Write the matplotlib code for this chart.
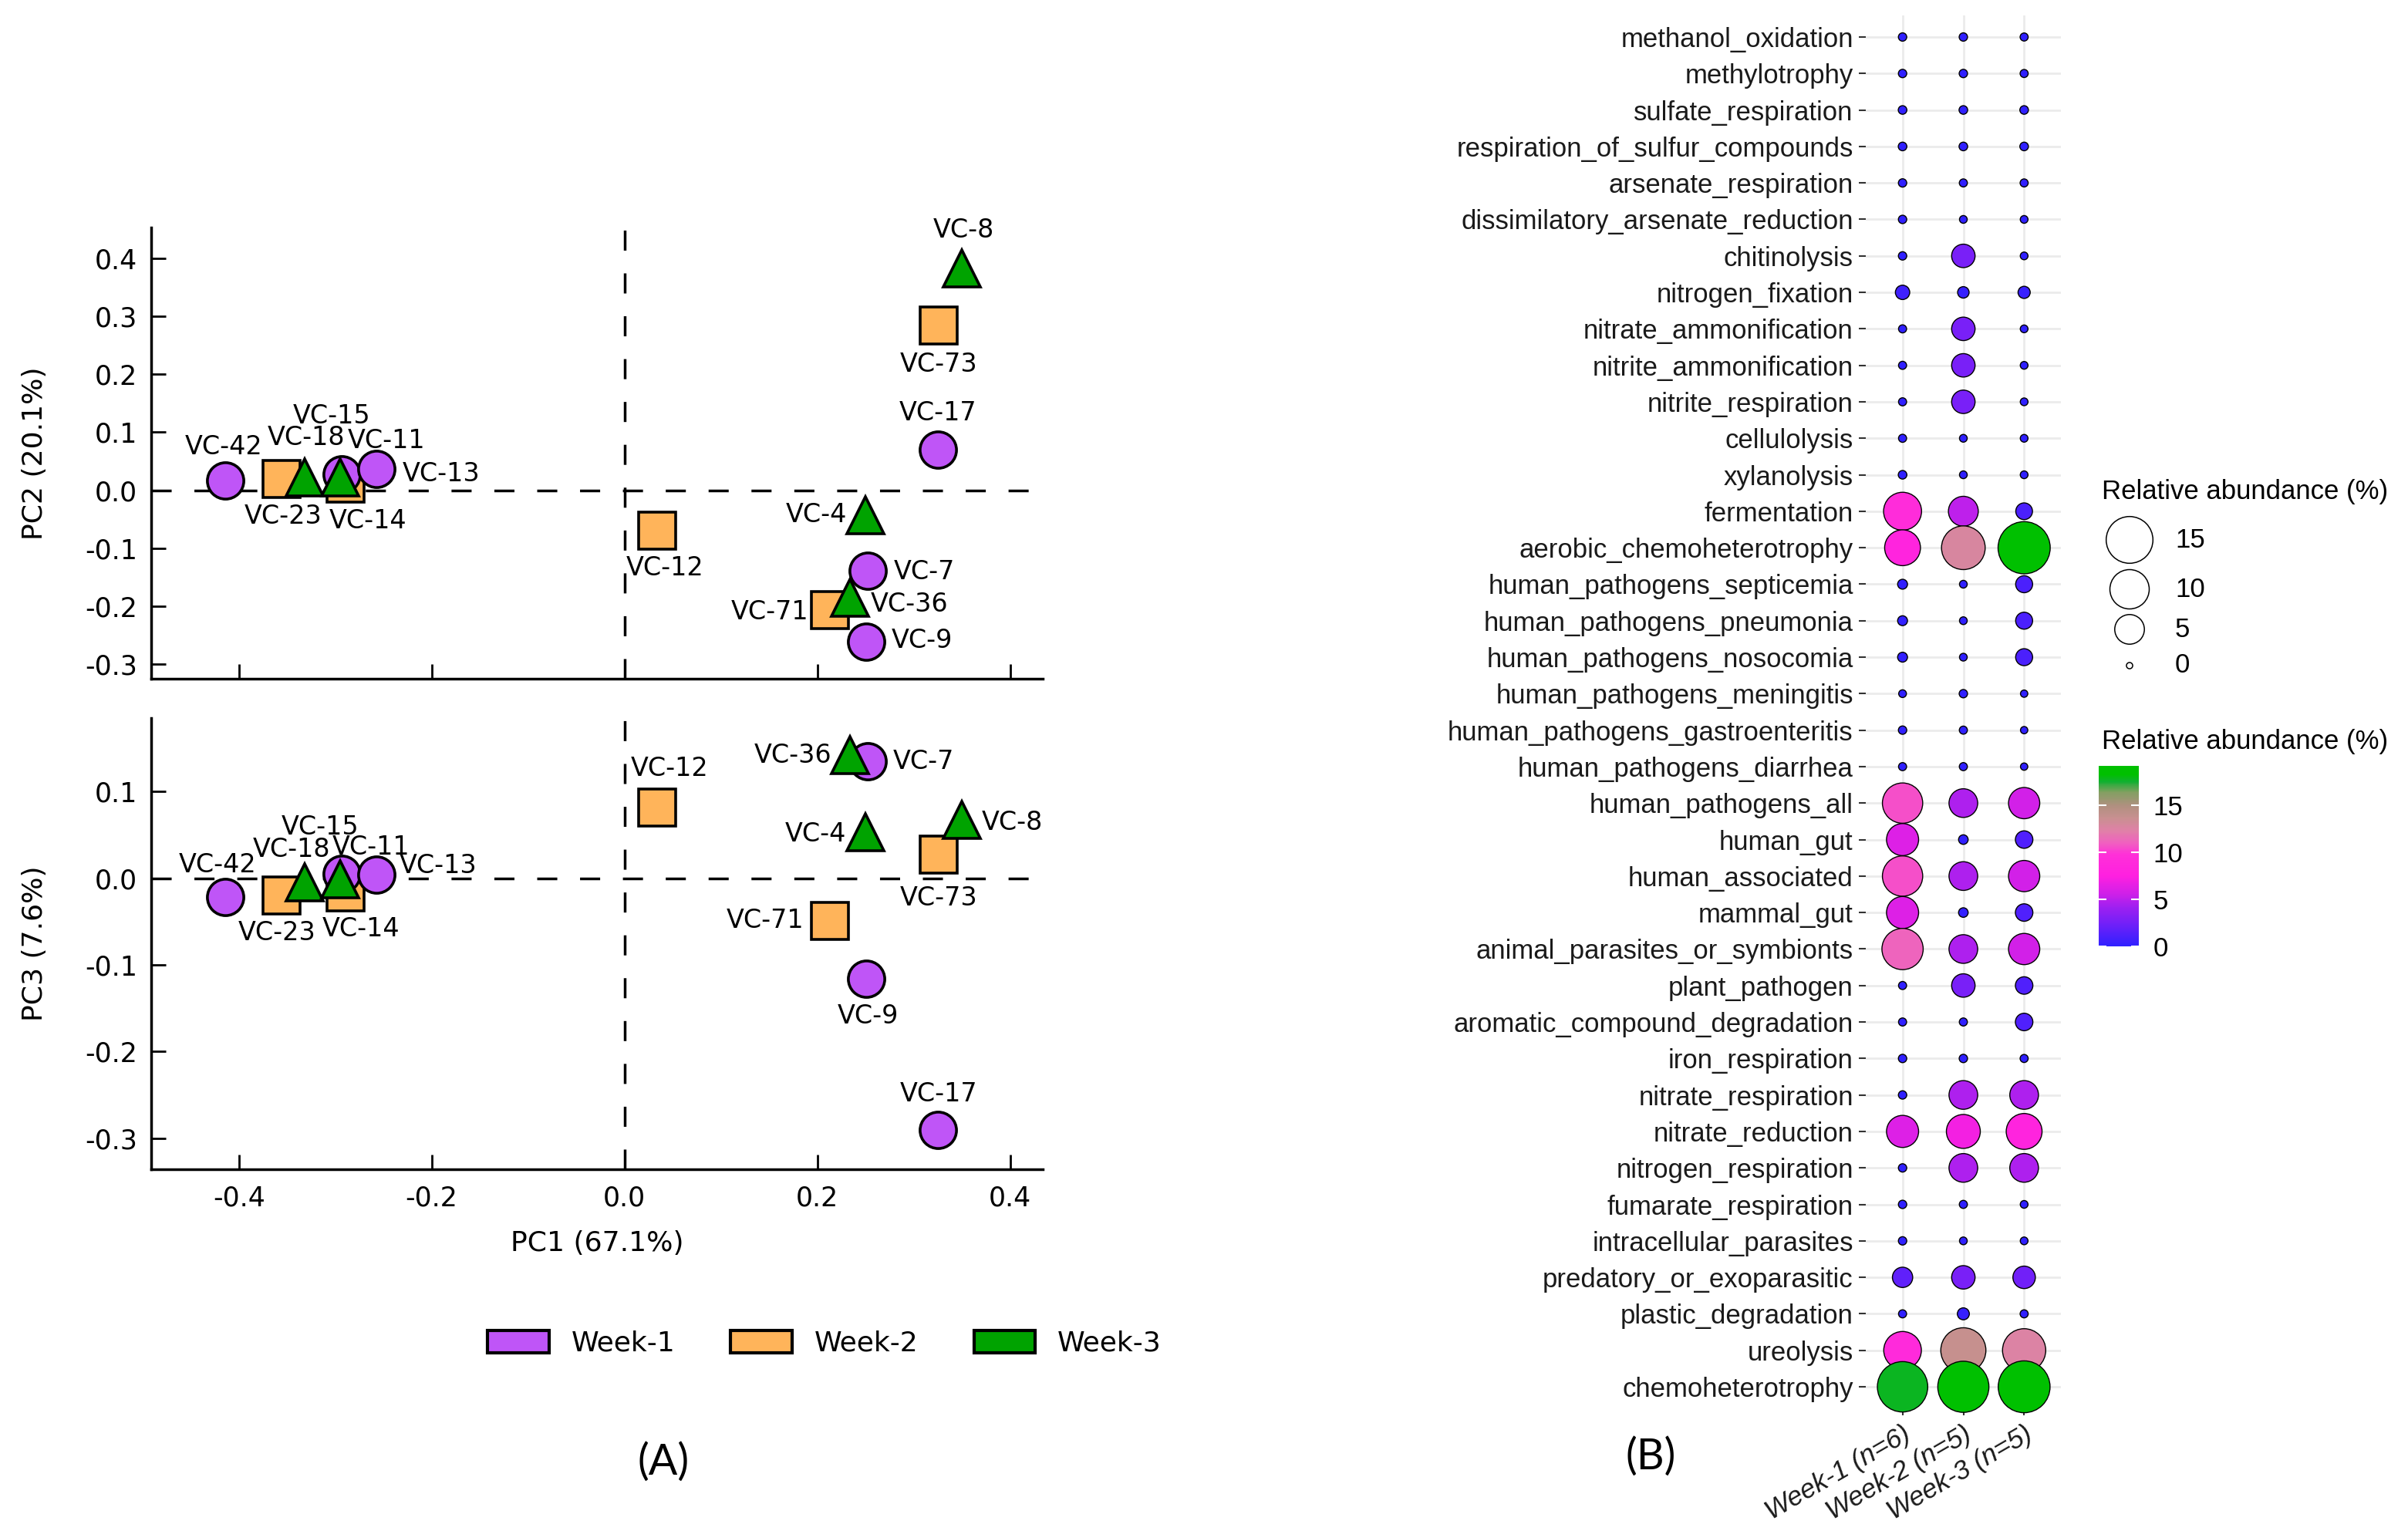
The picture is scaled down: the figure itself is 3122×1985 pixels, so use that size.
import numpy as np
import matplotlib
matplotlib.use("Agg")
import matplotlib.pyplot as plt
from matplotlib.colors import LinearSegmentedColormap, Normalize
from matplotlib.patches import Patch
from matplotlib.colorbar import ColorbarBase

W, H, DPI = 3122, 1985, 100

# ---------------- (A) PCA scores ----------------
samples = ['VC-42', 'VC-15', 'VC-13', 'VC-17', 'VC-7', 'VC-9',
           'VC-23', 'VC-14', 'VC-12', 'VC-71', 'VC-73',
           'VC-18', 'VC-11', 'VC-8', 'VC-4', 'VC-36']
weeks = ['Week-1'] * 6 + ['Week-2'] * 5 + ['Week-3'] * 5
pc1 = [-0.414, -0.293, -0.257, 0.325, 0.252, 0.251,
       -0.356, -0.289, 0.034, 0.213, 0.326,
       -0.332, -0.295, 0.350, 0.250, 0.234]
pc2 = [0.017, 0.028, 0.037, 0.070, -0.139, -0.261,
       0.019, 0.011, -0.070, -0.207, 0.284,
       0.022, 0.022, 0.383, -0.043, -0.185]
pc3 = [-0.022, 0.0055, 0.004, -0.291, 0.135, -0.116,
       -0.020, -0.016, 0.082, -0.049, 0.027,
       -0.005, -0.001, 0.067, 0.053, 0.142]

week_names = ['Week-1', 'Week-2', 'Week-3']
week_colors = {'Week-1': '#bf55f7', 'Week-2': '#ffb45a', 'Week-3': '#00a300'}
week_markers = {'Week-1': 'o', 'Week-2': 's', 'Week-3': '^'}

# label offsets in pixels (dx, dy) from the point
top_off = {'VC-8': (2, 49), 'VC-73': (0, -50), 'VC-17': (0, 47), 'VC-42': (-2, 43),
           'VC-15': (-13, 75), 'VC-18': (2, 52), 'VC-11': (60, 48), 'VC-13': (84, -7),
           'VC-23': (2, -48), 'VC-14': (29, -48), 'VC-4': (-64, 0), 'VC-12': (10, -48),
           'VC-7': (74, -1), 'VC-36': (77, -9), 'VC-71': (-78, -2), 'VC-9': (72, 1)}
bot_off = {'VC-42': (-10, 42), 'VC-23': (-6, -48), 'VC-18': (-17, 43), 'VC-15': (-28, 60),
           'VC-11': (40, 41), 'VC-14': (20, -48), 'VC-13': (80, 12), 'VC-12': (16, 50),
           'VC-36': (-74, 0), 'VC-7': (73, 0), 'VC-4': (-65, -2), 'VC-8': (65, -3),
           'VC-73': (0, -56), 'VC-71': (-84, 0), 'VC-9': (2, -49), 'VC-17': (1, 47)}

# ---------------- (B) functional profiles ----------------
functions = ['methanol_oxidation', 'methylotrophy', 'sulfate_respiration',
             'respiration_of_sulfur_compounds', 'arsenate_respiration',
             'dissimilatory_arsenate_reduction', 'chitinolysis', 'nitrogen_fixation',
             'nitrate_ammonification', 'nitrite_ammonification', 'nitrite_respiration',
             'cellulolysis', 'xylanolysis', 'fermentation', 'aerobic_chemoheterotrophy',
             'human_pathogens_septicemia', 'human_pathogens_pneumonia',
             'human_pathogens_nosocomia', 'human_pathogens_meningitis',
             'human_pathogens_gastroenteritis', 'human_pathogens_diarrhea',
             'human_pathogens_all', 'human_gut', 'human_associated', 'mammal_gut',
             'animal_parasites_or_symbionts', 'plant_pathogen',
             'aromatic_compound_degradation', 'iron_respiration', 'nitrate_respiration',
             'nitrate_reduction', 'nitrogen_respiration', 'fumarate_respiration',
             'intracellular_parasites', 'predatory_or_exoparasitic',
             'plastic_degradation', 'ureolysis', 'chemoheterotrophy']
groups = ['Week-1 (n=6)', 'Week-2 (n=5)', 'Week-3 (n=5)']
week1_ab = [0.04, 0.04, 0.05, 0.05, 0.04, 0.04, 0.04, 0.6, 0.03, 0.03, 0.03, 0.03, 0.05,
            9.2, 8.0, 0.12, 0.12, 0.12, 0.02, 0.04, 0.03, 10.6, 6.1, 10.6, 6.1, 11.2,
            0.03, 0.03, 0.04, 0.04, 6.1, 0.04, 0.04, 0.04, 1.8, 0.03, 9.0, 17.8]
week2_ab = [0.04, 0.04, 0.05, 0.05, 0.03, 0.02, 2.7, 0.25, 2.7, 2.7, 2.7, 0.02, 0.02,
            5.1, 12.8, 0.02, 0.02, 0.02, 0.04, 0.03, 0.03, 4.6, 0.1, 4.6, 0.1, 4.6,
            2.7, 0.03, 0.04, 4.6, 7.0, 4.6, 0.03, 0.02, 2.7, 0.3, 13.8, 18.4]
week3_ab = [0.03, 0.03, 0.05, 0.05, 0.03, 0.02, 0.02, 0.32, 0.02, 0.02, 0.02, 0.02, 0.02,
            1.0, 19.26, 1.05, 1.05, 1.05, 0.01, 0.01, 0.01, 5.7, 1.15, 5.7, 1.15, 5.7,
            1.15, 1.15, 0.03, 4.6, 8.0, 4.6, 0.02, 0.02, 2.4, 0.03, 12.5, 19.0]

size_breaks = [15, 10, 5, 0]
color_ticks = [0, 5, 10, 15]

# colour gradient of the abundance scale (value, colour)
grad_nodes = [(0, '#3020ff'), (2.3, '#7020f8'), (4.2, '#a020f0'), (5.6, '#d020e8'),
              (7.5, '#ff20e0'), (9.8, '#ff30d8'), (11.0, '#f060c0'), (12.3, '#e080a8'),
              (13.7, '#c89090'), (15.0, '#b09080'), (16.5, '#80a060'), (17.6, '#10b030'),
              (18.3, '#00c000'), (19.26, '#00c000')]

vmax = max(max(week1_ab), max(week2_ab), max(week3_ab))
cmap = LinearSegmentedColormap.from_list('abund', [(v / vmax, c) for v, c in grad_nodes])
norm = Normalize(0, vmax)


def bubble_area(v):
    d_px = 9.5 + 13.56 * np.sqrt(np.asarray(v, dtype=float)) - 1.4
    return (d_px * 72 / DPI) ** 2


def fig_rect(left, top, right, bottom):
    return [left / W, 1 - bottom / H, (right - left) / W, (bottom - top) / H]


plt.rcParams['font.family'] = 'DejaVu Sans'
fig = plt.figure(figsize=(W / DPI, H / DPI), dpi=DPI)

ax_top = fig.add_axes(fig_rect(196, 295, 1352, 880))
ax_bot = fig.add_axes(fig_rect(196, 931, 1352, 1516))


def pca_panel(ax, yvals, offsets, ylim, yticks, ylabel, show_xlabels):
    dash = (0, (7.5, 8.5))
    ax.axhline(0, color='black', lw=2.5, ls=dash, zorder=1)
    ax.axvline(0, color='black', lw=2.5, ls=dash, zorder=1)
    for wk in ['Week-2', 'Week-1', 'Week-3']:
        idx = [i for i, w in enumerate(weeks) if w == wk]
        ax.plot([pc1[i] for i in idx], [yvals[i] for i in idx], ls='none',
                marker=week_markers[wk], ms=34, mfc=week_colors[wk], mec='black',
                mew=2.6, zorder=3, clip_on=False)
    for i, s in enumerate(samples):
        ax.annotate(s, (pc1[i], yvals[i]), xytext=offsets[s], textcoords='offset pixels',
                    ha='center', va='center', fontsize=24, zorder=4)
    ax.set_xlim(-0.491, 0.434)
    ax.set_ylim(*ylim)
    ax.set_xticks([-0.4, -0.2, 0.0, 0.2, 0.4])
    ax.set_yticks(yticks)
    ax.yaxis.set_major_formatter(matplotlib.ticker.FormatStrFormatter('%.1f'))
    ax.xaxis.set_major_formatter(matplotlib.ticker.FormatStrFormatter('%.1f'))
    for sp in ['top', 'right']:
        ax.spines[sp].set_visible(False)
    for sp in ['left', 'bottom']:
        ax.spines[sp].set_linewidth(2.5)
    ax.tick_params(direction='in', length=14, width=2, labelsize=25)
    ax.tick_params(axis='y', pad=13)
    ax.tick_params(axis='x', pad=15, labelbottom=show_xlabels)
    ax.set_ylabel(ylabel, fontsize=26)
    ax.yaxis.set_label_coords(-0.116, 0.5)


pca_panel(ax_top, pc2, top_off, (-0.325, 0.453), [-0.3, -0.2, -0.1, 0.0, 0.1, 0.2, 0.3, 0.4],
          'PC2 (20.1%)', False)
pca_panel(ax_bot, pc3, bot_off, (-0.336, 0.185), [-0.3, -0.2, -0.1, 0.0, 0.1],
          'PC3 (7.6%)', True)
ax_bot.set_xlabel('PC1 (67.1%)', fontsize=26)
ax_bot.xaxis.set_label_coords(0.5, -0.135)

handles = [Patch(facecolor=week_colors[w], edgecolor='black', linewidth=3, label=w)
           for w in week_names]
fig.legend(handles=handles, loc='center', bbox_to_anchor=(1069 / W, 1 - 1742 / H), ncol=3,
           frameon=False, fontsize=26, handlelength=2.2, handleheight=0.85,
           handletextpad=0.8, columnspacing=2.0)

fig.text(860 / W, 1 - 1896 / H, '(A)', ha='center', va='center', fontsize=40, family='Lato')
fig.text(2140 / W, 1 - 1889 / H, '(B)', ha='center', va='center', fontsize=40, family='Lato')

# ---------------- (B) bubble plot ----------------
ax_b = fig.add_axes(fig_rect(2419.4, 19.6, 2671.6, 1826.4))
ypos = np.arange(len(functions))
for j, vals in enumerate([week1_ab, week2_ab, week3_ab]):
    ax_b.scatter(np.full(len(vals), j + 1), ypos, s=bubble_area(vals), c=vals, cmap=cmap,
                 norm=norm, edgecolors='black', linewidths=1.0, zorder=3, clip_on=False)
ax_b.set_xlim(0.4, 3.6)
ax_b.set_ylim(len(functions) - 0.4, -0.6)
ax_b.set_axisbelow(True)
ax_b.grid(color='#ebebeb', lw=2)
for sp in ax_b.spines.values():
    sp.set_visible(False)
ax_b.set_yticks(ypos)
ax_b.set_yticklabels(functions, fontfamily='Liberation Sans', fontsize=25, color='#1a1a1a')
ax_b.set_xticks([1, 2, 3])
ax_b.set_xticklabels(groups, rotation=30, ha='right', va='top', rotation_mode='anchor',
                     fontstyle='italic', fontfamily='Liberation Sans', fontsize=25,
                     color='#1a1a1a')
ax_b.tick_params(axis='both', length=6.5, width=1.5, color='#333333')
ax_b.tick_params(axis='y', pad=5.5)
ax_b.tick_params(axis='x', pad=5)

# legends for (B)
lax = fig.add_axes([0, 0, 1, 1])
lax.set_xlim(0, W)
lax.set_ylim(H, 0)
lax.axis('off')
key_y = [700, 764, 816, 863]
lax.text(2725, 637, 'Relative abundance (%)', ha='left', va='center', fontsize=25,
         family='Liberation Sans')
lax.scatter([2761] * len(size_breaks), key_y, s=bubble_area(size_breaks), facecolors='white',
            edgecolors='black', linewidths=1.1)
for v, y in zip(size_breaks, key_y):
    lax.text(2820, y, str(v), ha='left', va='center', fontsize=25, family='Liberation Sans')
lax.text(2725, 962, 'Relative abundance (%)', ha='left', va='center', fontsize=25,
         family='Liberation Sans')

cax = fig.add_axes(fig_rect(2721, 992.7, 2773, 1226.7))
cb = ColorbarBase(cax, cmap=cmap, norm=norm, orientation='vertical')
cb.outline.set_visible(False)
cb.set_ticks(color_ticks)
cb.set_ticklabels([str(t) for t in color_ticks], fontfamily='Liberation Sans', fontsize=25)
cax.tick_params(length=0, pad=13.5)
cax.hlines(color_ticks, 0, 0.2, colors='white', lw=1.5)
cax.hlines(color_ticks, 0.8, 1.0, colors='white', lw=1.5)

fig.savefig('out.png', dpi=DPI)
